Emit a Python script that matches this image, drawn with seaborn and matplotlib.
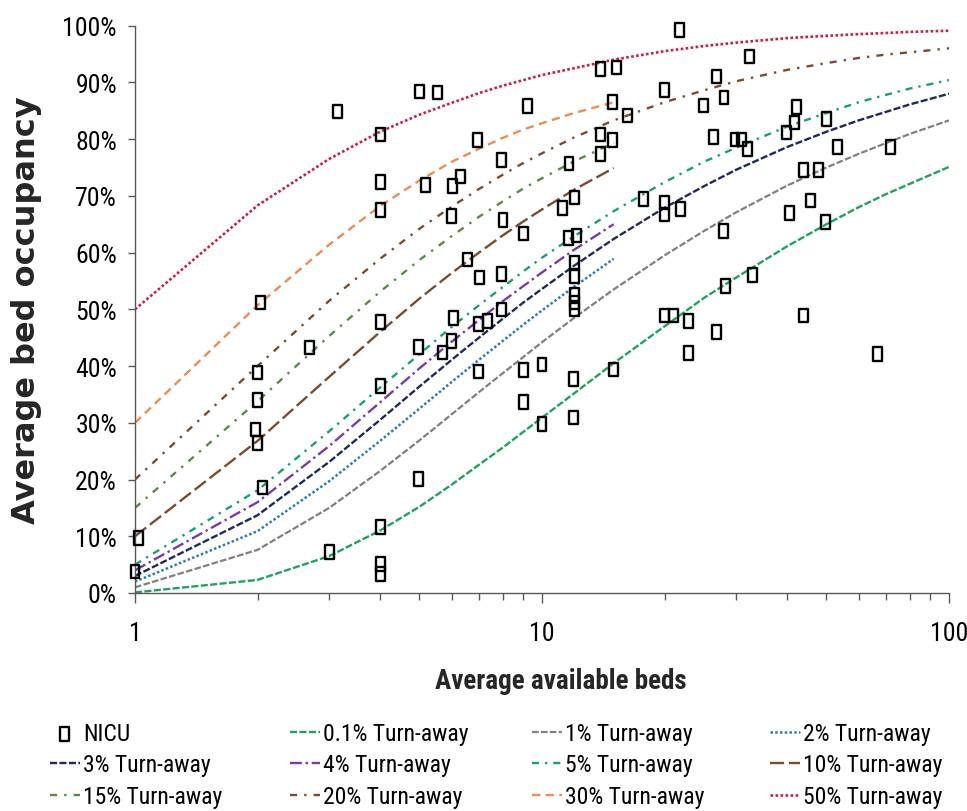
import matplotlib
matplotlib.use("Agg")
import matplotlib.pyplot as plt
import seaborn as sns
from matplotlib.markers import MarkerStyle
from matplotlib.path import Path
from matplotlib.ticker import FixedLocator, LogLocator, NullFormatter, FuncFormatter

# Bed counts at which the turn-away curves are tabulated
beds_long = [1, 2, 3, 4, 5, 6, 7, 8, 9, 10, 12, 15, 20, 25, 30, 40, 50, 60, 70, 80, 100]
beds_short = [1, 2, 3, 4, 5, 6, 7, 8, 9, 10, 12, 15]

# Average occupancy (%) for each turn-away rate
turn_0_1 = [0.1, 2.3, 6.5, 11.0, 15.2, 19.1, 22.6, 25.6, 28.4, 30.9, 35.2, 40.5,
            47.0, 52.0, 55.6, 61.1, 65.0, 68.0, 70.3, 72.1, 75.1]
turn_1 = [1.0, 7.6, 15.0, 21.5, 26.9, 31.5, 35.4, 38.7, 41.6, 44.2, 48.5, 53.5,
          59.5, 63.8, 67.1, 71.8, 75.0, 77.4, 79.3, 80.9, 83.3]
turn_2 = [2.0, 10.9, 19.7, 26.8, 32.5, 37.2, 41.1, 44.4, 47.3, 49.8, 54.0, 58.9]
turn_3 = [3.0, 13.7, 23.1, 30.5, 36.4, 41.1, 45.0, 48.3, 51.2, 53.6, 57.7, 62.4,
          67.9, 71.7, 74.6, 78.6, 81.3, 83.3, 84.8, 86.1, 88.0]
turn_4 = [4.0, 16.0, 25.9, 33.6, 39.6, 44.3, 48.1, 51.4, 54.1, 56.5, 60.5, 65.0]
turn_5 = [5.0, 18.1, 28.5, 36.2, 42.1, 46.9, 50.7, 53.9, 56.7, 59.1, 62.9, 67.3,
          72.4, 76.0, 78.5, 82.2, 84.6, 86.5, 87.8, 88.9, 90.4]
turn_10 = [10.0, 26.8, 38.1, 46.0, 51.9, 56.4, 60.0, 63.0, 65.5, 67.6, 71.1, 74.9]
turn_15 = [15.0, 33.8, 45.3, 53.1, 58.7, 62.9, 66.3, 69.0, 71.3, 73.1, 76.1, 79.3]
turn_20 = [20.0, 40.0, 51.5, 58.9, 64.2, 68.1, 71.2, 73.7, 75.8, 77.5, 80.3, 83.3,
           86.5, 88.6, 90.2, 92.2, 93.4, 94.3, 94.9, 95.3, 96.0]
turn_30 = [30.0, 50.7, 61.4, 68.2, 72.7, 76.0, 78.3, 80.2, 81.7, 82.8, 84.6, 86.5]
turn_50 = [50.0, 68.3, 76.5, 81.3, 84.3, 86.4, 88.1, 89.4, 90.4, 91.3, 92.5, 94.0,
           95.5, 96.4, 97.0, 97.8, 98.2, 98.5, 98.7, 98.9, 99.1]

# Observed NICUs: average available beds and average occupancy (%)
nicu_beds = [1.02, 1.0, 2.03, 2.0, 2.0, 1.98, 2.0, 2.06, 2.68, 3.0,
             3.14, 4.02, 4.0, 4.0, 4.0, 4.0, 4.0, 4.0, 4.02, 5.0,
             5.54, 4.97, 4.97, 5.17, 6.02, 6.31, 6.0, 6.06, 6.0, 5.69,
             6.57, 6.96, 7.02, 6.98, 7.36, 6.98, 7.96, 8.02, 7.96, 7.96,
             9.22, 9.0, 9.0, 9.0, 10.0, 10.0, 11.2, 11.65, 12.0, 11.6,
             12.17, 12.0, 12.0, 12.0, 12.0, 12.0, 11.97, 11.97, 13.94, 15.26,
             14.92, 16.2, 13.94, 14.92, 13.94, 14.97, 17.76, 19.95, 19.95, 19.95,
             19.95, 21.0, 21.8, 21.9, 22.9, 22.9, 24.9, 26.9, 26.4, 26.8,
             28.0, 27.9, 28.2, 29.8, 30.9, 31.9, 32.4, 32.9, 39.9, 41.8,
             42.1, 40.5, 44.0, 44.0, 47.9, 45.6, 50.1, 49.6, 53.2, 71.9,
             66.7]
nicu_occupancy = [9.7, 3.8, 51.2, 38.9, 34.0, 28.8, 26.4, 18.6, 43.3, 7.2,
                  84.9, 80.8, 72.4, 67.5, 47.8, 36.5, 11.6, 5.1, 3.3, 88.4,
                  88.2, 43.4, 20.1, 71.9, 71.7, 73.4, 66.4, 48.5, 44.4, 42.4,
                  58.8, 79.8, 55.6, 47.4, 47.9, 39.0, 76.3, 65.7, 56.2, 50.0,
                  85.8, 63.4, 39.3, 33.7, 40.3, 29.8, 67.9, 75.7, 69.7, 62.6,
                  63.0, 58.2, 55.9, 52.6, 51.2, 50.0, 37.7, 30.9, 92.4, 92.6,
                  86.5, 84.2, 80.8, 79.8, 77.4, 39.4, 69.4, 88.7, 68.8, 66.7,
                  48.9, 48.9, 99.2, 67.7, 47.9, 42.3, 85.9, 91.0, 80.4, 46.0,
                  87.3, 63.8, 54.1, 79.9, 79.9, 78.3, 94.6, 56.0, 81.2, 82.9,
                  85.7, 67.0, 74.6, 48.9, 74.6, 69.2, 83.5, 65.4, 78.6, 78.6,
                  42.1]

sns.set_theme(style="ticks")
narrow = ["Roboto Condensed", "Liberation Sans Narrow", "DejaVu Sans Condensed", "DejaVu Sans"]
plt.rcParams["font.family"] = narrow
plt.rcParams["text.color"] = "black"

fig = plt.figure(figsize=(9.67, 8.12), dpi=100)
ax = fig.add_axes([0.1396, 0.2685, 0.8418, 0.6987])

# label, beds, occupancy, colour, dash pattern, line width
curves = [
    ("0.1% Turn-away", beds_long, turn_0_1, "#1fa35c", (3, 1), 1.7),
    ("1% Turn-away", beds_long, turn_1, "#808080", (3, 1), 1.6),
    ("2% Turn-away", beds_short, turn_2, "#2f78bd", (1, 0.9), 1.8),
    ("3% Turn-away", beds_long, turn_3, "#1c2a5e", (3, 1), 1.7),
    ("4% Turn-away", beds_short, turn_4, "#7a3aa8", (5, 1.6, 1, 1.6), 1.7),
    ("5% Turn-away", beds_long, turn_5, "#16a077", (3, 2.5, 1, 2.5), 1.7),
    ("10% Turn-away", beds_short, turn_10, "#7e4a2c", (6, 2), 1.7),
    ("15% Turn-away", beds_short, turn_15, "#5b8a45", (3, 3, 1, 3), 1.7),
    ("20% Turn-away", beds_long, turn_20, "#7d4a30", (3, 3, 1, 3), 1.7),
    ("30% Turn-away", beds_short, turn_30, "#ee8c52", (3.5, 2.3), 1.7),
    ("50% Turn-away", beds_long, turn_50, "#cf1d3e", (1, 0.9), 1.9),
]

handles = {}
for label, beds, occ, color, dash, lw in curves:
    sns.lineplot(x=beds, y=occ, ax=ax, color=color, linewidth=lw,
                 linestyle=(0, dash), label=label, legend=False,
                 estimator=None, sort=False, zorder=2)
    handles[label] = ax.lines[-1]

# Tall open rectangle used for the NICU markers
rect = Path([(-0.33, -0.5), (0.33, -0.5), (0.33, 0.5), (-0.33, 0.5), (-0.33, -0.5)],
            closed=True)
nicu_marker = MarkerStyle(rect)
sns.scatterplot(x=nicu_beds, y=nicu_occupancy, ax=ax, marker=nicu_marker, s=95,
                color="black", facecolor="none", edgecolor="black", linewidth=1.7,
                clip_on=False, zorder=5, label="NICU", legend=False)
handles["NICU"] = ax.collections[-1]

ax.set_xscale("log")
ax.set_xlim(1, 100)
ax.set_ylim(0, 100)
ax.xaxis.set_major_locator(FixedLocator([1, 10, 100]))
ax.xaxis.set_major_formatter(FuncFormatter(lambda v, p: f"{v:g}"))
ax.xaxis.set_minor_locator(LogLocator(base=10, subs=range(2, 10)))
ax.xaxis.set_minor_formatter(NullFormatter())
ax.yaxis.set_major_locator(FixedLocator(range(0, 101, 10)))
ax.yaxis.set_major_formatter(FuncFormatter(lambda v, p: f"{v:.0f}%"))

sns.despine(ax=ax)
for side in ("left", "bottom"):
    ax.spines[side].set_color("#595959")
    ax.spines[side].set_linewidth(1.0)
ax.tick_params(axis="y", which="major", direction="out", length=5, width=1,
               color="#595959", pad=8, labelsize=18.5, labelcolor="black")
ax.tick_params(axis="x", which="major", direction="out", length=7, width=1,
               color="#595959", pad=13, labelsize=18.5, labelcolor="black")
ax.tick_params(axis="x", which="minor", direction="out", length=5, width=1,
               color="#595959")
ax.grid(False)

ax.set_xlabel("Average available beds", fontsize=19.5, fontweight="bold")
ax.xaxis.set_label_coords(0.523, -0.13)
ax.set_ylabel("Average bed occupancy", fontsize=23, fontweight="bold",
              family=["DejaVu Sans"])
ax.yaxis.set_label_coords(-0.114, 0.5)

# Legend laid out as four columns under the plot
columns = [
    ["NICU", "3% Turn-away", "15% Turn-away"],
    ["0.1% Turn-away", "4% Turn-away", "20% Turn-away"],
    ["1% Turn-away", "5% Turn-away", "30% Turn-away"],
    ["2% Turn-away", "10% Turn-away", "50% Turn-away"],
]
col_x = [50, 290, 532, 770]
for labels, x0 in zip(columns, col_x):
    fig.legend([handles[l] for l in labels], labels, loc="upper left",
               bbox_to_anchor=(x0 / 967, 1 - 723 / 812), frameon=False,
               fontsize=17, borderpad=0, borderaxespad=0, handlelength=1.25,
               handletextpad=0.15, labelspacing=0.36, scatterpoints=1)

fig.savefig("out.png", dpi=100)
